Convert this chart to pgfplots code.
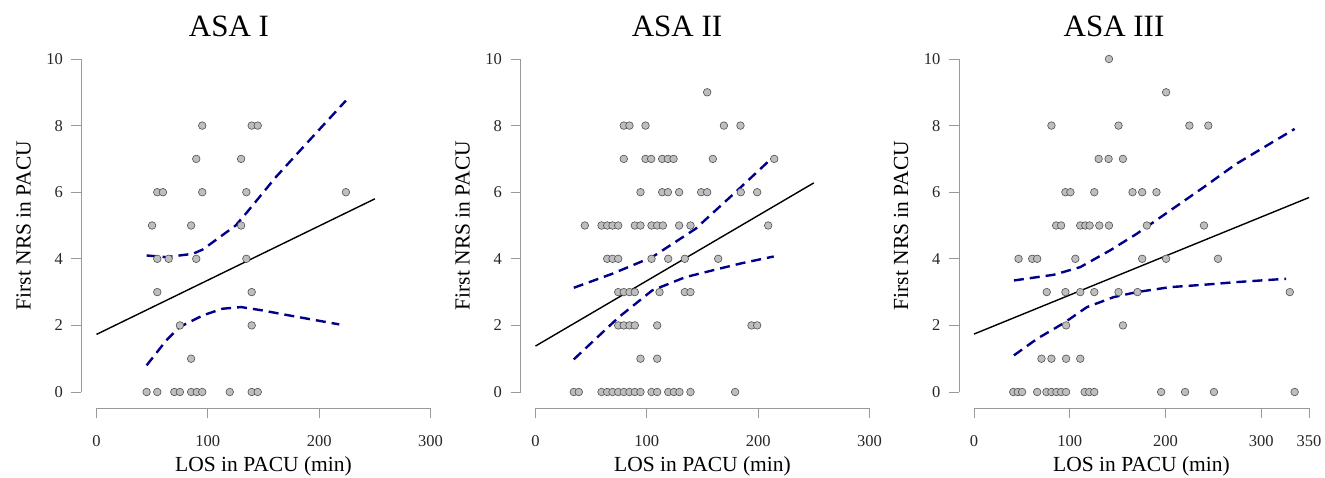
\documentclass[border=0pt]{standalone}
\usepackage{pgfplots}
\pgfplotsset{compat=1.18}
\usepackage{fontspec}
\setmainfont{Liberation Serif}
\definecolor{ptfill}{HTML}{BEBEBE}
\definecolor{ptedge}{HTML}{505050}
\definecolor{axgray}{HTML}{9A9A9A}
\definecolor{cinavy}{HTML}{00008B}
\pgfplotsset{
  myax/.style={
    scale only axis, width=334pt, height=333pt,
    ymin=0, ymax=10, xmin=0,
    clip=false,
    axis lines=left,
    axis line style={-, draw=axgray, line width=0.8pt},
    axis x line shift=16pt, axis y line shift=15pt,
    ytick={0,2,4,6,8,10},
    tick align=outside, major tick length=10pt,
    tick style={draw=axgray, line width=0.8pt},
    /pgf/number format/assume math mode=true,
    tick label style={font=\fontsize{16.5}{18}\selectfont, text=black!85},
    xticklabel style={yshift=-14pt},
    yticklabel style={xshift=-5pt},
    xlabel={LOS in PACU (min)}, ylabel={First NRS in PACU},
    label style={font=\fontsize{21.5}{24}\selectfont},
    x label style={at={([yshift=-79pt]axis description cs:0.5,0)}, anchor=base},
    y label style={at={([xshift=-73pt]axis description cs:0,0.5)}, anchor=center},
  },
  pts/.style={only marks, mark=*, mark size=3.8pt, mark options={fill=ptfill, draw=ptedge, line width=0.6pt}},
  fit/.style={no marks, black, line width=1.4pt},
  ci/.style={no marks, cinavy, line width=2.4pt, dash pattern=on 10pt off 6pt},
}
\begin{document}
\begin{tikzpicture}
\useasboundingbox (0pt,0pt) rectangle (1325pt,477pt);
% ---------------- ASA I
\begin{axis}[myax, at={(96.5pt,85pt)}, anchor=south west, xmax=300, xtick={0,100,200,300}]
\addplot[pts] coordinates {
(95,8) (139.4,8) (144.8,8)
(89.6,7) (129.9,7)
(54.6,6) (59.7,6) (95,6) (134.6,6) (224,6)
(49.9,5) (85,5) (129.9,5)
(54.6,4) (64.8,4) (89.6,4) (134.6,4)
(54.6,3) (139.4,3)
(74.9,2) (139.4,2)
(85,1)
(45,0) (54.6,0) (69.9,0) (74.9,0) (85,0) (90.1,0) (95,0) (119.7,0) (139.4,0) (144.8,0)
};
\addplot[fit] coordinates {(0,1.73) (250,5.80)};
\addplot[ci] coordinates {(45,4.1) (62.7,4.05) (86.6,4.15) (95.5,4.28) (125,5.0) (134,5.35) (161,6.45) (191,7.55) (224,8.75)};
\addplot[ci] coordinates {(45,0.8) (62.7,1.55) (74.6,1.95) (95.5,2.3) (113,2.5) (130,2.55) (149,2.45) (173,2.3) (218,2.03)};
\end{axis}
% ---------------- ASA II
\begin{axis}[myax, at={(535.5pt,85pt)}, anchor=south west, xmax=300, xtick={0,100,200,300}]
\addplot[pts] coordinates {
(154.2,9)
(79.3,8) (84.4,8) (98.8,8) (169.2,8) (184.1,8)
(79.3,7) (98.8,7) (103.9,7) (113.8,7) (118.9,7) (124,7) (159.3,7) (214.4,7)
(94.3,6) (113.8,6) (118.9,6) (129,6) (148.8,6) (154.2,6) (184.4,6) (199.1,6)
(44.3,5) (59.3,5) (64.4,5) (69.2,5) (74.3,5) (89.2,5) (94.3,5) (104.2,5) (109.3,5) (114.4,5) (129,5) (139.2,5) (209,5)
(64.4,4) (69.2,4) (74.3,4) (104.2,4) (119.2,4) (134.1,4) (164.1,4)
(74.3,3) (79.3,3) (84.4,3) (89.2,3) (111.4,3) (134.1,3) (139.2,3)
(74.3,2) (79.3,2) (84.4,2) (89.2,2) (109.3,2) (194,2) (199.1,2)
(94.3,1) (109.3,1)
(34.4,0) (38.9,0) (59.3,0) (64.4,0) (69.2,0) (74.3,0) (79.3,0) (84.4,0) (89.2,0) (94.3,0) (104.2,0) (109.3,0) (119.2,0) (124.3,0) (129.3,0) (139.2,0) (179.3,0)
};
\addplot[fit] coordinates {(0,1.38) (250,6.28)};
\addplot[ci] coordinates {(34.4,3.13) (68.9,3.55) (104.8,4.05) (143.7,4.9) (179.6,6.0) (210,6.95)};
\addplot[ci] coordinates {(34.4,0.98) (74.9,2.25) (104.8,3.05) (134.7,3.45) (164.7,3.7) (185.6,3.87) (214,4.07)};
\end{axis}
% ---------------- ASA III
\begin{axis}[myax, at={(974pt,85pt)}, anchor=south west, width=335pt, xmax=350, xtick={0,100,200,300,350}]
\addplot[pts] coordinates {
(141,10)
(200.7,9)
(80.9,8) (151,8) (225,8) (244.8,8)
(130.2,7) (140.6,7) (155.6,7)
(95.5,6) (100.7,6) (125.7,6) (165.6,6) (175.7,6) (190.6,6)
(85.8,5) (91,5) (111,5) (116.3,5) (120.8,5) (130.9,5) (141,5) (180.6,5) (240.3,5)
(46.5,4) (60.8,4) (66,4) (105.9,4) (175.7,4) (200.7,4) (254.9,4)
(76,3) (95.5,3) (111,3) (125.7,3) (151,3) (170.8,3) (329.9,3)
(96.2,2) (155.6,2)
(70.5,1) (80.9,1) (96.2,1) (111,1)
(41,0) (45.8,0) (50.3,0) (66,0) (75.7,0) (80.9,0) (86.1,0) (91,0) (96.2,0) (115.6,0) (120.5,0) (125.7,0) (195.5,0) (220.5,0) (250.7,0) (335,0)
};
\addplot[fit] coordinates {(0,1.74) (350,5.84)};
\addplot[ci] coordinates {(41.7,3.35) (83.3,3.52) (111,3.75) (142,4.25) (170,4.75) (205,5.45) (240,6.15) (274,6.85) (335,7.9)};
\addplot[ci] coordinates {(41.7,1.1) (66,1.6) (93.8,2.07) (118,2.55) (146,2.85) (170,3.0) (205,3.15) (240,3.22) (274,3.3) (326,3.4)};
\end{axis}
% titles
\node[anchor=base, font=\fontsize{31}{34}\selectfont] at (229pt,440pt) {ASA I};
\node[anchor=base, font=\fontsize{31}{34}\selectfont] at (677pt,440pt) {ASA II};
\node[anchor=base, font=\fontsize{31}{34}\selectfont] at (1114pt,440pt) {ASA III};
\end{tikzpicture}
\end{document}
